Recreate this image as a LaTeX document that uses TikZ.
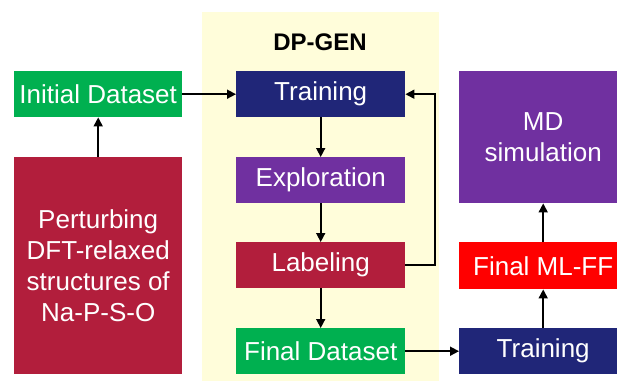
\documentclass[tikz,border=0pt]{standalone}
\usepackage{fontspec}
\setmainfont{Liberation Sans}
\usetikzlibrary{arrows.meta}
\definecolor{cgreen}{RGB}{0,176,80}
\definecolor{cnavy}{RGB}{32,38,120}
\definecolor{cpurple}{RGB}{112,48,160}
\definecolor{ccrimson}{RGB}{178,30,60}
\definecolor{cred}{RGB}{255,0,0}
\definecolor{cyellow}{RGB}{255,253,218}
\tikzset{
  box/.style={anchor=north west, inner sep=0pt, text=white, align=center,
    font=\fontsize{26}{31}\selectfont, minimum width=168pt, minimum height=46pt},
  conn/.style={draw=black, line width=1.6pt, -{Triangle[length=9pt,width=9pt]}},
}
\begin{document}
\begin{tikzpicture}[x=1pt,y=-1pt]
\useasboundingbox (0,0) rectangle (617,381);
\clip (0,0) rectangle (617,381);
\fill[cyellow] (202,12) rectangle (439,381);
\node[font=\fontsize{24}{28}\selectfont\bfseries] (title) at (320,42) {DP-GEN};
\node[box, fill=cgreen] (init) at (14,71) {Initial Dataset};
\node[box, fill=ccrimson, minimum height=217pt] (pert) at (14,157) {Perturbing\\DFT-relaxed\\structures of\\Na-P-S-O};
\node[box, fill=cnavy, minimum width=169pt] (train) at (236,71) {Training};
\node[box, fill=cpurple, minimum width=169pt] (expl) at (236,157) {Exploration};
\node[box, fill=ccrimson, minimum width=169pt] (label) at (236,242) {Labeling};
\node[box, fill=cgreen, minimum width=169pt] (final) at (236,328) {Final Dataset};
\node[box, fill=cpurple, minimum height=132pt] (md) at (459,71) {MD\\simulation};
\node[box, fill=cred, minimum height=47pt] (mlff) at (459,242) {Final ML-FF};
\node[box, fill=cnavy] (train2) at (459,328) {Training};
\coordinate (fb) at (435,0);
\draw[conn] (pert) -- (init);
\draw[conn] (init) -- (train);
\draw[conn] (train) -- (expl);
\draw[conn] (expl) -- (label);
\draw[conn] (label) -- (final);
\draw[conn] (label.east) -- (label.east -| fb) -- (train.east -| fb) -- (train.east);
\draw[conn] (final) -- (train2);
\draw[conn] (train2) -- (mlff);
\draw[conn] (mlff) -- (md);
\end{tikzpicture}
\end{document}
